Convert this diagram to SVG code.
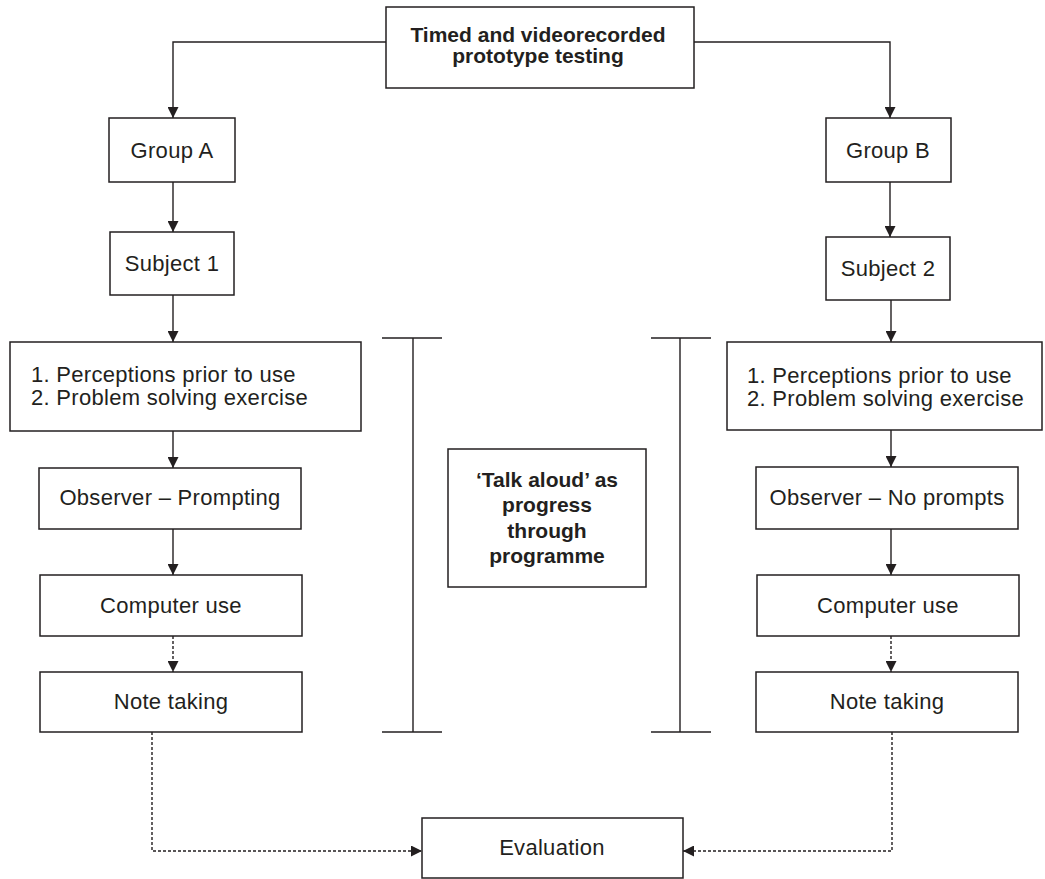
<svg xmlns="http://www.w3.org/2000/svg" width="1045" height="879" viewBox="0 0 1045 879">
<style>
.box{fill:#fff;stroke:#231f20;stroke-width:1.5}
.t{font-family:"Liberation Sans",Arial,sans-serif;font-size:22px;fill:#231f20;letter-spacing:0.3px}
.b{font-weight:bold;font-size:21px;letter-spacing:0}
.c{stroke:#231f20;stroke-width:1.4;fill:none}
.d{stroke-dasharray:3,2}
</style>
<defs>
<marker id="ah" viewBox="0 0 11 11" refX="11" refY="5.5" markerWidth="11" markerHeight="11" markerUnits="userSpaceOnUse" orient="auto">
<path d="M0,0 L11,5.5 L0,11 z" fill="#231f20"/>
</marker>
</defs>
<rect width="1045" height="879" fill="#fff"/>
<g id="connectors">
<path class="c" d="M386,42 H173 V118" marker-end="url(#ah)"/>
<path class="c" d="M694,42 H890 V118" marker-end="url(#ah)"/>
<path class="c" d="M173,182 V232" marker-end="url(#ah)"/>
<path class="c" d="M173,295 V342" marker-end="url(#ah)"/>
<path class="c" d="M173,431 V468" marker-end="url(#ah)"/>
<path class="c" d="M173,529 V575" marker-end="url(#ah)"/>
<path class="c d" d="M173,636 V672" marker-end="url(#ah)"/>
<path class="c" d="M890,182 V237" marker-end="url(#ah)"/>
<path class="c" d="M891,300 V342" marker-end="url(#ah)"/>
<path class="c" d="M891,430 V467" marker-end="url(#ah)"/>
<path class="c" d="M891,529 V575" marker-end="url(#ah)"/>
<path class="c d" d="M891,636 V672" marker-end="url(#ah)"/>
<path class="c d" d="M152,732 V851 H422" marker-end="url(#ah)"/>
<path class="c d" d="M892,732 V851 H683" marker-end="url(#ah)"/>
<path class="c" d="M413,338 V732 M382,338 H442 M382,732 H442"/>
<path class="c" d="M680,338 V732 M651,338 H711 M651,732 H711"/>
</g>
<g id="top">
<rect class="box" x="386" y="7" width="308" height="81"/>
<text class="t b" x="538" y="42" text-anchor="middle">Timed and videorecorded</text>
<text class="t b" x="538" y="63" text-anchor="middle">prototype testing</text>
</g>
<g id="groupA">
<rect class="box" x="109" y="118" width="126" height="64"/>
<text class="t" x="172" y="158" text-anchor="middle">Group A</text>
</g>
<g id="groupB">
<rect class="box" x="826" y="118" width="125" height="64"/>
<text class="t" x="888" y="158" text-anchor="middle">Group B</text>
</g>
<g id="subject1">
<rect class="box" x="110" y="232" width="124" height="63"/>
<text class="t" x="172" y="271" text-anchor="middle">Subject 1</text>
</g>
<g id="subject2">
<rect class="box" x="826" y="237" width="124" height="63"/>
<text class="t" x="888" y="276" text-anchor="middle">Subject 2</text>
</g>
<g id="perceptionsA">
<rect class="box" x="10" y="342" width="351" height="89"/>
<text class="t" x="31" y="382">1. Perceptions prior to use</text>
<text class="t" x="31" y="405">2. Problem solving exercise</text>
</g>
<g id="perceptionsB">
<rect class="box" x="727" y="342" width="315" height="88"/>
<text class="t" x="747" y="383">1. Perceptions prior to use</text>
<text class="t" x="747" y="406">2. Problem solving exercise</text>
</g>
<g id="observerA">
<rect class="box" x="39" y="468" width="262" height="61"/>
<text class="t" x="170" y="505" text-anchor="middle">Observer – Prompting</text>
</g>
<g id="observerB">
<rect class="box" x="756" y="467" width="262" height="62"/>
<text class="t" x="887" y="505" text-anchor="middle">Observer – No prompts</text>
</g>
<g id="computerA">
<rect class="box" x="40" y="575" width="262" height="61"/>
<text class="t" x="171" y="613" text-anchor="middle">Computer use</text>
</g>
<g id="computerB">
<rect class="box" x="757" y="575" width="262" height="61"/>
<text class="t" x="888" y="613" text-anchor="middle">Computer use</text>
</g>
<g id="noteA">
<rect class="box" x="40" y="672" width="262" height="60"/>
<text class="t" x="171" y="709" text-anchor="middle">Note taking</text>
</g>
<g id="noteB">
<rect class="box" x="756" y="672" width="262" height="60"/>
<text class="t" x="887" y="709" text-anchor="middle">Note taking</text>
</g>
<g id="talk">
<rect class="box" x="448" y="449" width="198" height="138"/>
<text class="t b" x="547" y="487" text-anchor="middle">‘Talk aloud’ as</text>
<text class="t b" x="547" y="512" text-anchor="middle">progress</text>
<text class="t b" x="547" y="538" text-anchor="middle">through</text>
<text class="t b" x="547" y="563" text-anchor="middle">programme</text>
</g>
<g id="evaluation">
<rect class="box" x="422" y="818" width="261" height="60"/>
<text class="t" x="552" y="855" text-anchor="middle">Evaluation</text>
</g>
</svg>
